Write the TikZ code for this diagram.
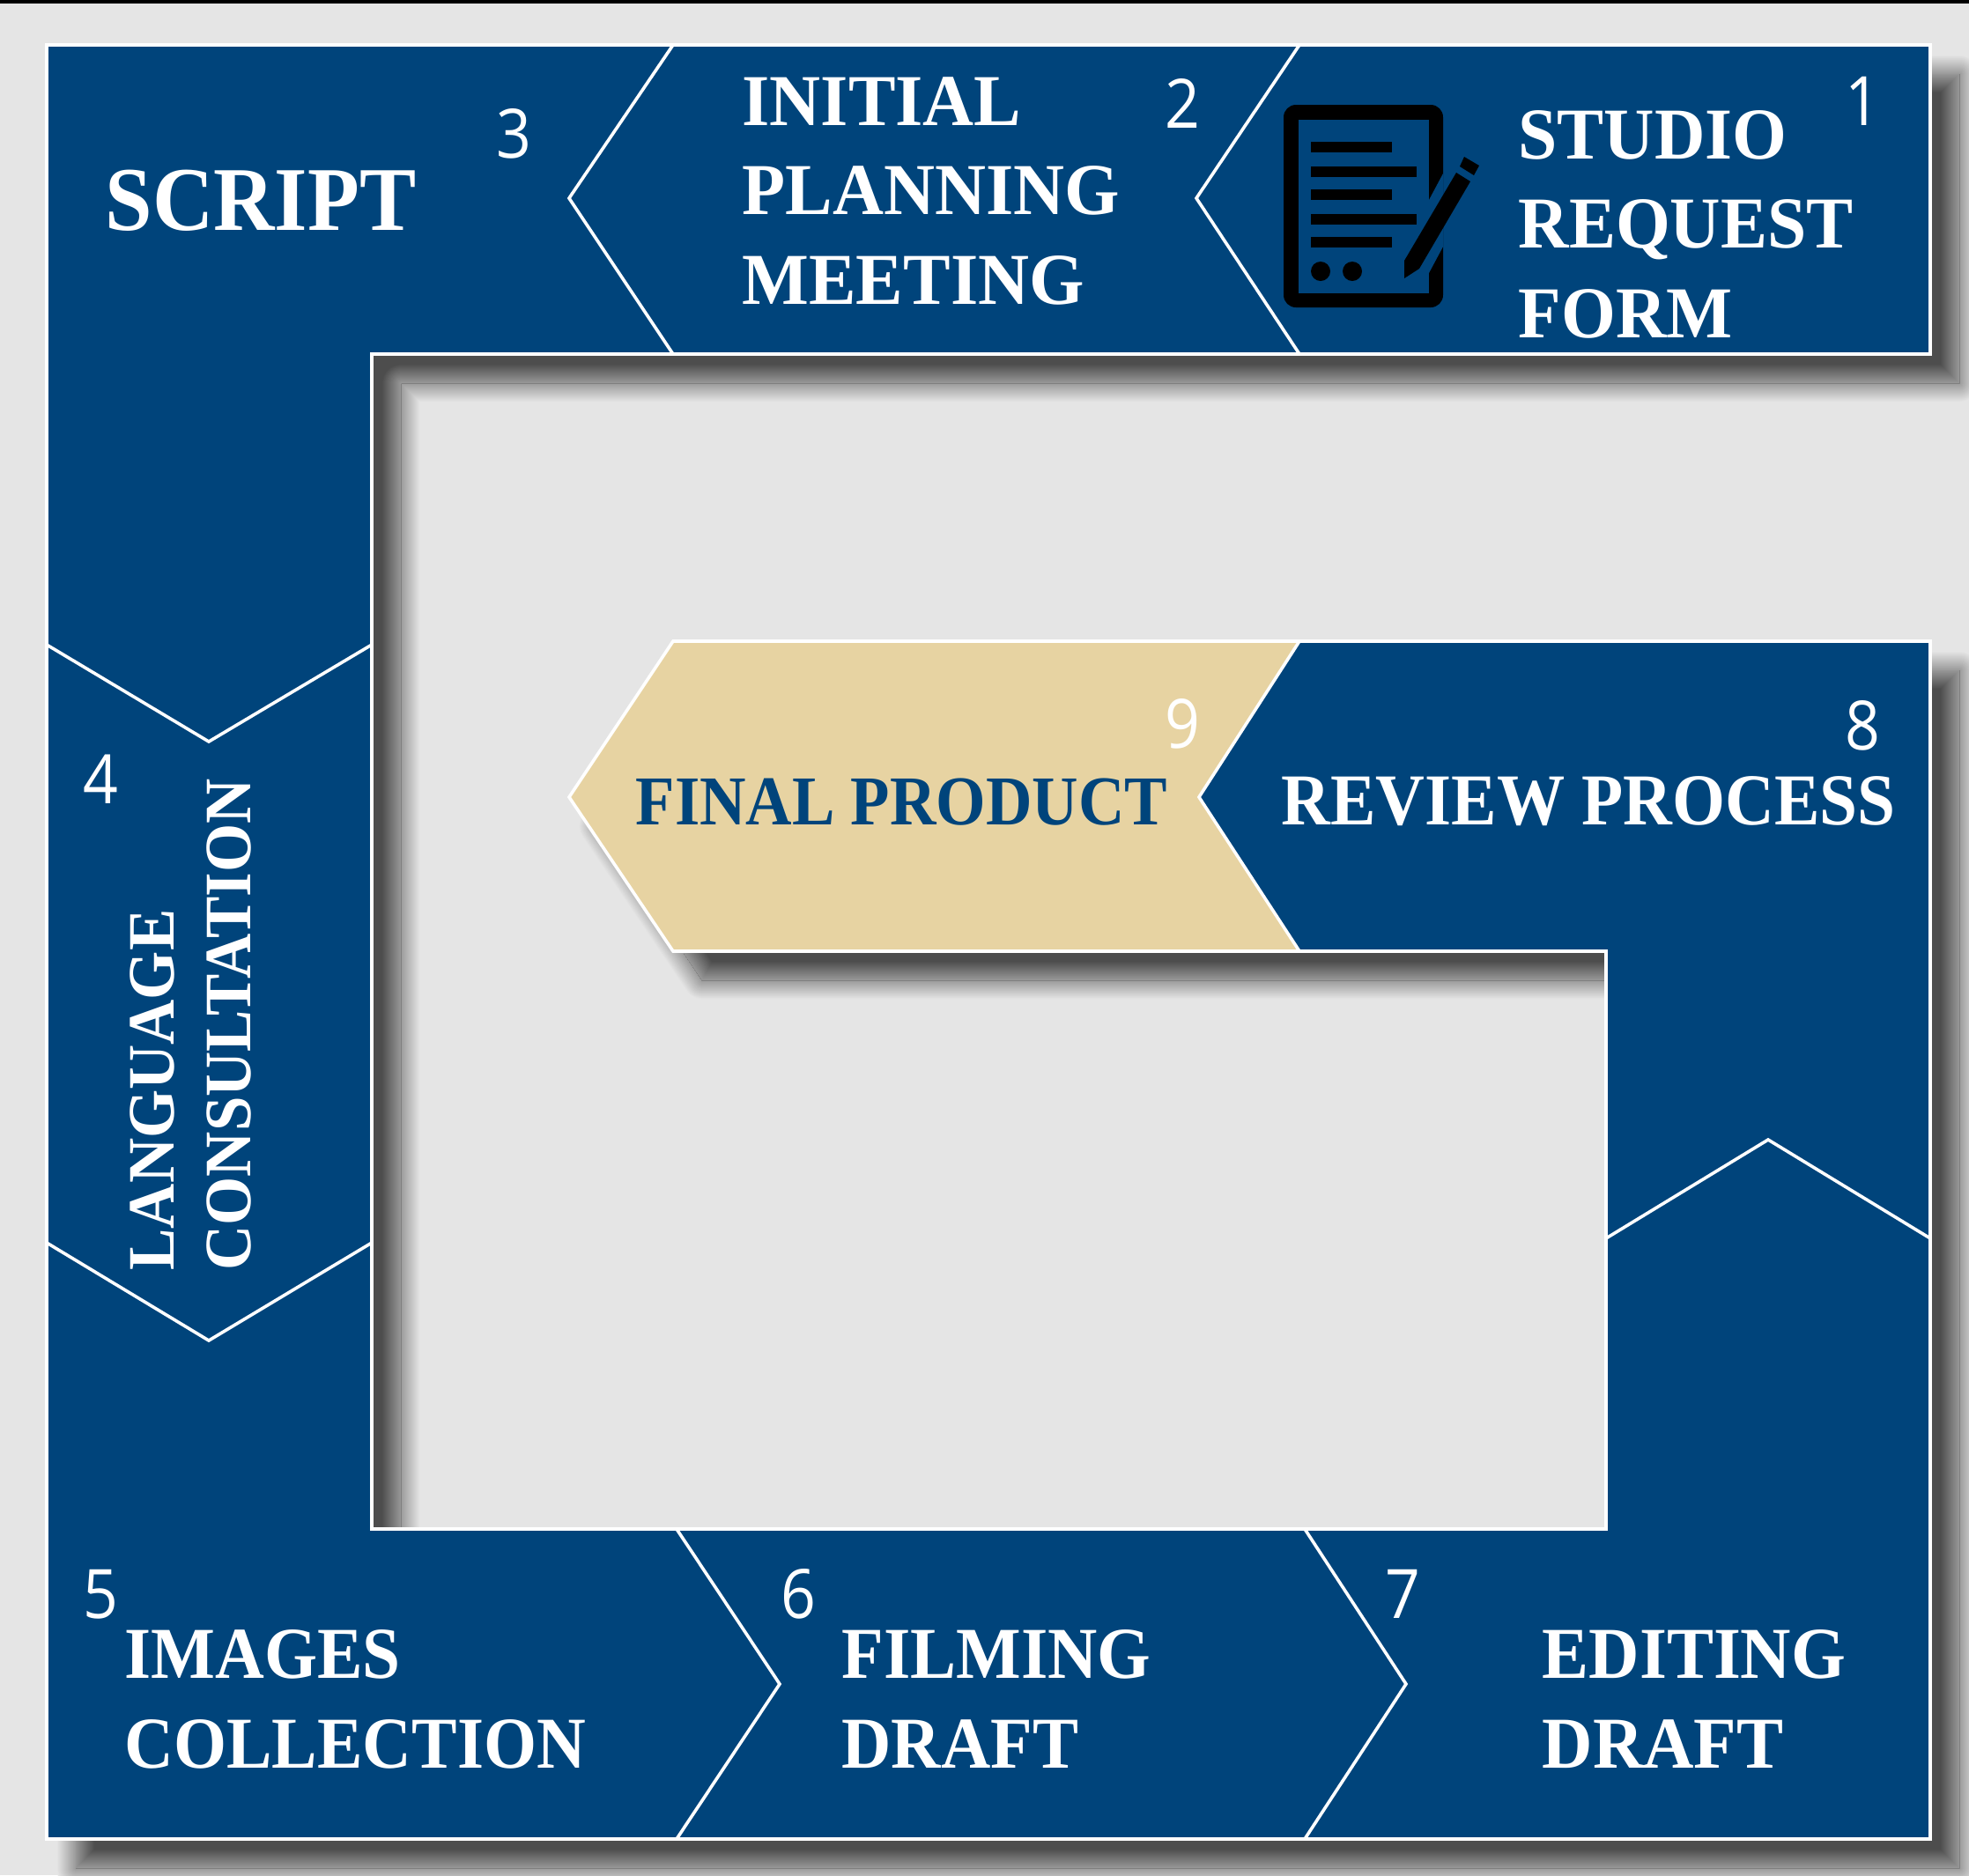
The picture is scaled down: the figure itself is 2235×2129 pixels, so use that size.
\documentclass[tikz,border=0pt]{standalone}
\usepackage{fontspec}
\setmainfont{Liberation Serif}
\newfontfamily\numfont{Open Sans}
\definecolor{paper}{HTML}{E5E5E5}
\definecolor{shadedark}{HTML}{4D4D4D}
\definecolor{bandblue}{HTML}{00447B}
\definecolor{finalbeige}{HTML}{E7D3A2}
\newcommand{\bandpath}{(53,51)--(2191,51)--(2191,402)--(422,402)--(422,1736)--(1823,1736)--(1823,1080)--(764,1080)--(646,905)--(764,728)--(2191,728)--(2191,2088)--(53,2088)--cycle}
\tikzset{
  stepnum/.style={inner sep=0pt,text=white,xscale=.9,font=\numfont\fontsize{22}{26}\selectfont},
  steptext/.style={anchor=base west,inner sep=0pt,align=left,text=white,xscale=.93,font=\bfseries\fontsize{23.6}{28.8}\selectfont},
  bandline/.style={draw=white,line width=0.036cm,line join=miter}
}
\begin{document}
\begin{tikzpicture}[x=0.01cm,y=-0.01cm]
  \useasboundingbox (0,0) rectangle (2235,2129);
  \clip (0,0) rectangle (2235,2129);
  \fill [paper] (0,0) rectangle (2235,2129);
  \fill [black] (0,0) rectangle (2235,4);
  % soft shadow, outer half then inner half
  \begin{scope}[shift={(33,33)}]
    \foreach \w in {44,42,...,0} {
      \pgfmathsetmacro\shademix{50*(1-\w/44)}
      \draw [line join=round,line width=\w*0.01cm,draw=shadedark!\shademix!paper,fill=shadedark!\shademix!paper] \bandpath;
    }
    \begin{scope}
      \clip \bandpath;
      \fill [shadedark] (-100,-100) rectangle (2300,2300);
      \foreach \w in {44,42,...,2} {
        \pgfmathsetmacro\shademix{50+50*\w/44}
        \draw [line join=round,line width=\w*0.01cm,draw=shadedark!\shademix!paper] \bandpath;
      }
    \end{scope}
  \end{scope}
  % bands
  \fill [bandblue] \bandpath;
  \fill [finalbeige] (764,728)--(1475,728)--(1361,905)--(1475,1080)--(764,1080)--(646,905)--cycle;
  \draw [bandline] \bandpath;
  \draw [bandline] (764,51)--(646,225)--(764,402);
  \draw [bandline] (1475,51)--(1358,225)--(1475,402);
  \draw [bandline] (1475,728)--(1361,905)--(1475,1080);
  \draw [bandline] (53,732)--(237,842)--(422,732);
  \draw [bandline] (53,1411)--(237,1522)--(422,1411);
  \draw [bandline] (768,1736)--(885,1912)--(768,2088);
  \draw [bandline] (1481,1736)--(1596,1912)--(1481,2088);
  \draw [bandline] (1823,1406)--(2007,1294)--(2191,1406);
  % form icon
  \fill [black,rounded corners=0.14cm] (1457,119) rectangle (1638,349);
  \fill [bandblue] (1474,136) rectangle (1622,333);
  \fill [bandblue] (1622,227)--(1638,197)--(1638,280)--(1622,310)--cycle;
  \foreach \y/\xend in {161/1580,189/1608,215/1580,243/1608,269/1580}
    \fill [black] (1488,\y) rectangle (\xend,\y+12);
  \fill [black] (1499,308) circle [radius=0.11cm];
  \fill [black] (1535,308) circle [radius=0.11cm];
  \fill [black] (1653,196)--(1669,206)--(1611,305)--(1594,316)--(1594,296)--cycle;
  \fill [black] (1662,178)--(1679,188)--(1673,199)--(1657,189)--cycle;
  % labels
  \node [steptext,xscale=1.03] (request) at (1723,383) {STUDIO\\REQUEST\\FORM};
  \node [steptext,xscale=1.04] (planning) at (842,345) {INITIAL\\PLANNING\\MEETING};
  \node [steptext,font=\bfseries\fontsize{29.4}{32}\selectfont] (script) at (119,261) {SCRIPT};
  \node [steptext,rotate=90,xscale=.877,font=\bfseries\fontsize{23}{26.6}\selectfont] (language) at (284,1443) {LANGUAGE\\CONSULTATION};
  \node [steptext] (images) at (141,2007) {IMAGES\\COLLECTION};
  \node [steptext,xscale=1.01] (filming) at (955,2007) {FILMING\\DRAFT};
  \node [steptext,xscale=1.03] (editing) at (1750,2007) {EDITING\\DRAFT};
  \node [steptext] (review) at (1454,936) {REVIEW PROCESS};
  \node [steptext,text=bandblue,xscale=.983,font=\bfseries\fontsize{22.6}{26}\selectfont] (final) at (721,936) {FINAL PRODUCT};
  % numbers
  \node [stepnum] (n1) at (2114,115) {1};
  \node [stepnum] (n2) at (1342,117) {2};
  \node [stepnum] (n3) at (583,152) {3};
  \node [stepnum] (n4) at (114,885) {4};
  \node [stepnum] (n5) at (114,1810) {5};
  \node [stepnum] (n6) at (906,1810) {6};
  \node [stepnum] (n7) at (1592,1810) {7};
  \node [stepnum] (n8) at (2114,824) {8};
  \node [stepnum] (n9) at (1342,822) {9};
\end{tikzpicture}
\end{document}
